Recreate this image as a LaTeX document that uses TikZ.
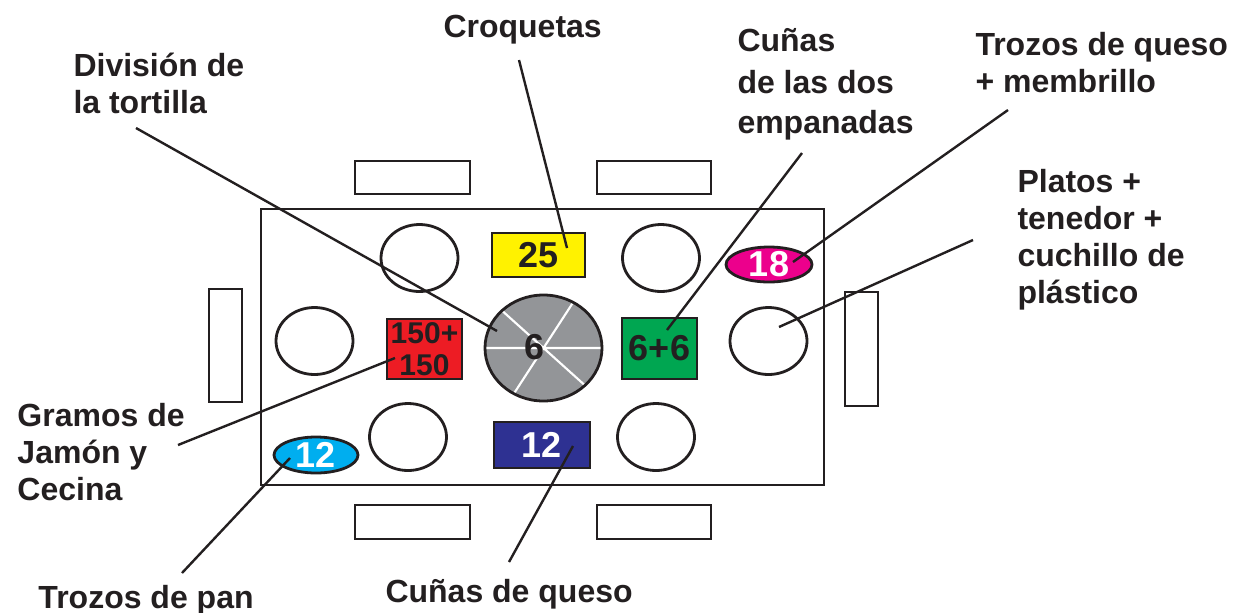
\documentclass[tikz,border=0pt]{standalone}
\usepackage{fontspec}
\setmainfont{Liberation Sans}
\usepackage{tikz}
\usetikzlibrary{shapes.geometric}
\definecolor{ink}{HTML}{231F20}
\definecolor{croqyellow}{HTML}{FFF200}
\definecolor{jamonred}{HTML}{ED1C24}
\definecolor{empangreen}{HTML}{00A651}
\definecolor{tortgray}{HTML}{939598}
\definecolor{quesoblue}{HTML}{2E3192}
\definecolor{pancyan}{HTML}{00AEEF}
\definecolor{membrmagenta}{HTML}{EC008C}
\tikzset{every picture/.style={line width=0.75pt}}

\begin{document}
\begin{tikzpicture}[x=0.75pt,y=0.75pt,yscale=-1,xscale=1,
  furn/.style={draw=ink,line width=2.1pt},
  plate/.style={ellipse,draw=ink,line width=2.1pt,minimum width=57.75pt,minimum height=50.25pt,inner sep=0pt},
  dish/.style={draw=ink,line width=2.1pt,inner sep=0pt},
  leader/.style={draw=ink,line width=1.8pt},
  lbl/.style={anchor=base west,inner sep=0pt,align=left,text=ink,font=\fontsize{24}{27.75}\selectfont\bfseries},
  num/.style={inner sep=0pt,text=ink,font=\fontsize{27}{27}\selectfont\bfseries}]
\useasboundingbox (0,0) rectangle (1243,612);

%Shape: Chairs
\draw[furn] (355,161) rectangle (470,194);
\draw[furn] (597,161) rectangle (711,194);
\draw[furn] (355,505) rectangle (470,539);
\draw[furn] (597,505) rectangle (711,539);
\draw[furn] (209,289) rectangle (242,402);
\draw[furn] (845,292) rectangle (878,406);
%Shape: Table
\draw[furn] (261,209) rectangle (824,485);

%Shape: Plates
\node[plate] (plate-tl) at (419.5,258) {};
\node[plate] (plate-tr) at (661,258) {};
\node[plate] (plate-l) at (314.5,341) {};
\node[plate] (plate-r) at (768.5,341) {};
\node[plate] (plate-bl) at (408,437) {};
\node[plate] (plate-br) at (656,437) {};

%Shape: Dishes
\node[dish,num,fill=croqyellow,minimum width=69.75pt,minimum height=33pt] (croq) at (538.5,255) {25};
\node[dish,num,fill=jamonred,minimum width=56.25pt,minimum height=45pt,align=center,font=\fontsize{22.5}{24}\selectfont\bfseries] (jamon) at (424.5,349) {150+\\150};
\node[dish,num,fill=empangreen,minimum width=56.25pt,minimum height=45.75pt] (empan) at (659.5,348.5) {6+6};
\node[dish,num,fill=quesoblue,text=white,minimum width=72pt,minimum height=34.5pt] (queso) at (542,445) {12};
\node[dish,ellipse,fill=pancyan,minimum width=63pt,minimum height=27pt] (pan) at (316,455) {};
\node[num,text=white] (pan-n) at (pan) {12};
\node[dish,ellipse,fill=membrmagenta,minimum width=64.5pt,minimum height=26.25pt] (membr) at (769,264.5) {};
\node[num,text=white] (membr-n) at (membr) {18};

%Shape: Tortilla
\node[ellipse,fill=tortgray,minimum width=87.75pt,minimum height=79.5pt,inner sep=0pt] (tort) at (543.5,348) {};
\draw[white,line width=1.6pt] (tort.0) -- (tort.180) (tort.57) -- (tort.237) (tort.138) -- (tort.318);
\draw[dish] (tort.center) ellipse [x radius=58.5, y radius=53];
\node[num] (tort-n) at (535,347) {6};

% Text Node
\node[lbl] (lbl-tortilla) at (73,113) {División de\\la tortilla};
% Text Node
\node[lbl] (lbl-croq) at (443,37) {Croquetas};
% Text Node
\node[lbl] (lbl-empan) at (737,133) {Cuñas\\[4pt]de las dos\\[2pt]empanadas};
% Text Node
\node[lbl] (lbl-membr) at (975,92) {Trozos de queso\\+ membrillo};
% Text Node
\node[lbl] (lbl-platos) at (1017,303) {Platos +\\tenedor +\\cuchillo de\\plástico};
% Text Node
\node[lbl] (lbl-jamon) at (17,500) {Gramos de\\Jamón y\\Cecina};
% Text Node
\node[lbl] (lbl-pan) at (38,608) {Trozos de pan};
% Text Node
\node[lbl] (lbl-queso) at (385,602) {Cuñas de queso};

%Leader ends
\coordinate (tortilla-from) at (136,128);
\coordinate (tortilla-tip) at (497,331);
\coordinate (croq-from) at (519,60);
\coordinate (croq-tip) at (567,248);
\coordinate (empan-from) at (802,153);
\coordinate (empan-tip) at (667,330);
\coordinate (membr-from) at (1008,110);
\coordinate (membr-tip) at (793,262);
\coordinate (platos-from) at (973,240);
\coordinate (platos-tip) at (779,327);
\coordinate (jamon-from) at (178,445);
\coordinate (jamon-tip) at (395,358);
\coordinate (pan-from) at (182,573);
\coordinate (pan-tip) at (290,458);
\coordinate (queso-from) at (509,562);
\coordinate (queso-tip) at (573,446);

%Straight Lines
\draw[leader] (tortilla-from) -- (tortilla-tip);
\draw[leader] (croq-from) -- (croq-tip);
\draw[leader] (empan-from) -- (empan-tip);
\draw[leader] (membr-from) -- (membr-tip);
\draw[leader] (platos-from) -- (platos-tip);
\draw[leader] (jamon-from) -- (jamon-tip);
\draw[leader] (pan-from) -- (pan-tip);
\draw[leader] (queso-from) -- (queso-tip);

\end{tikzpicture}
\end{document}
